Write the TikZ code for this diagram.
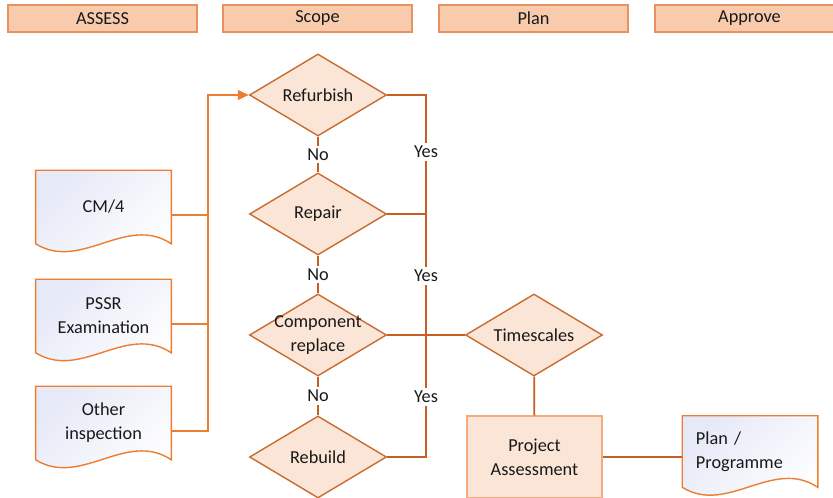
\documentclass[tikz,border=0pt]{standalone}
\usepackage{fontspec}
\setmainfont{Carlito}
\usetikzlibrary{shapes.geometric,arrows.meta,backgrounds}
\definecolor{headfill}{RGB}{248,203,173}
\definecolor{headline}{RGB}{232,146,96}
\definecolor{boxfill}{RGB}{251,229,214}
\definecolor{boxline}{RGB}{200,108,48}
\definecolor{feedline}{RGB}{237,125,49}
\definecolor{flowline}{RGB}{196,96,36}
\definecolor{docshade}{RGB}{230,233,247}
\definecolor{projline}{RGB}{242,172,126}
\definecolor{textgrey}{RGB}{25,25,25}
\newcommand{\docoutline}[1]{%
  \path[draw=feedline, line width=1pt, left color=docshade, right color=white, shading angle=45]
    (#1.north west) -- (#1.north east) -- (#1.south east)
    .. controls ([shift={(-45,-30)}]#1.south east) and ([shift={(45,28)}]#1.south west) ..
    (#1.south west) -- cycle;}
\tikzset{every node/.style={font=\fontsize{13}{17}\selectfont, text=textgrey},
  phase/.style={draw=headline, fill=headfill, line width=0.8pt, minimum width=4.725cm, minimum height=0.675cm, inner sep=0pt},
  decision/.style={diamond, draw=boxline, fill=boxfill, line width=1pt, minimum width=3.425cm, minimum height=2.05cm, inner sep=0pt},
  docnode/.style={minimum width=3.375cm, minimum height=1.825cm, inner sep=0pt, align=center},
  project/.style={draw=projline, fill=boxfill, line width=1pt, minimum width=3.375cm, minimum height=2.05cm, align=center},
  yesno/.style={fill=white, inner sep=2pt},
  flow/.style={draw=flowline, line width=1.3pt},
  feed/.style={draw=feedline, line width=1.3pt}}

\begin{document}
\begin{tikzpicture}[x=0.025cm, y=-0.025cm]
   \useasboundingbox (0,0) rectangle (833,498);
   % phase headings
   \node[phase] (assess)  at (102.5,18.5) {ASSESS};
   \node[phase] (scope)   at (317.5,18.5) {Scope};
   \node[phase] (plan)    at (533.5,18.5) {Plan};
   \node[phase] (approve) at (749.5,18.5) {Approve};
   % inputs
   \node[docnode] (cm4)   at (103.5,207) {CM/4};
   \node[docnode] (pssr)  at (103.5,316) {PSSR\\Examination};
   \node[docnode] (other) at (103.5,423) {Other\\inspection};
   \begin{scope}[on background layer]
     \docoutline{cm4}
     \docoutline{pssr}
     \docoutline{other}
   \end{scope}
   % decisions
   \node[decision, label=center:Refurbish] (refurbish) at (318,95) {};
   \node[decision, label=center:Repair] (repair) at (318,214) {};
   \node[decision, label={[align=center]center:Component\\replace}] (replace) at (318,335) {};
   \node[decision, label=center:Rebuild] (rebuild) at (318,457) {};
   \node[decision, label=center:Timescales] (timescales) at (534,335) {};
   \node[project] (assessment) at (534.5,457) {Project\\Assessment};
   \node[docnode, minimum height=1.775cm, text width=2.7cm, align=left] (programme) at (750,451.5) {Plan /\\Programme};
   \begin{scope}[on background layer]
     \docoutline{programme}
   \end{scope}
   % feeds into refurbish
   \coordinate (inbus) at (208,95);
   \draw[feed] ([yshift=-0.2cm]cm4.east) -| (inbus);
   \draw[feed] ([yshift=-0.2cm]pssr.east) -| (inbus);
   \draw[feed, -{Triangle[length=0.27cm, width=0.24cm]}] ([yshift=-0.2cm]other.east) -| (inbus) -- (refurbish.west);
   % no branch
   \draw[flow] (refurbish) -- node[yesno] (no1) {No} (repair);
   \draw[flow] (repair) -- node[yesno] (no2) {No} (replace);
   \draw[flow] (replace) -- node[yesno] (no3) {No} (rebuild);
   % yes branch
   \coordinate (yesbus) at (426,457);
   \draw[flow] (refurbish.east) -| (yesbus) -- (rebuild.east);
   \draw[flow] (repair.east) -- (repair.east -| yesbus);
   \draw[flow] (replace.east) -- (timescales.west);
   \draw[flow] (timescales) -- (assessment);
   \draw[flow] (assessment) -- (assessment -| programme.west);
   \node[yesno] (yes1) at (426,152) {Yes};
   \node[yesno] (yes2) at (426,276) {Yes};
   \node[yesno] (yes3) at (426,397) {Yes};
\end{tikzpicture}
\end{document}
